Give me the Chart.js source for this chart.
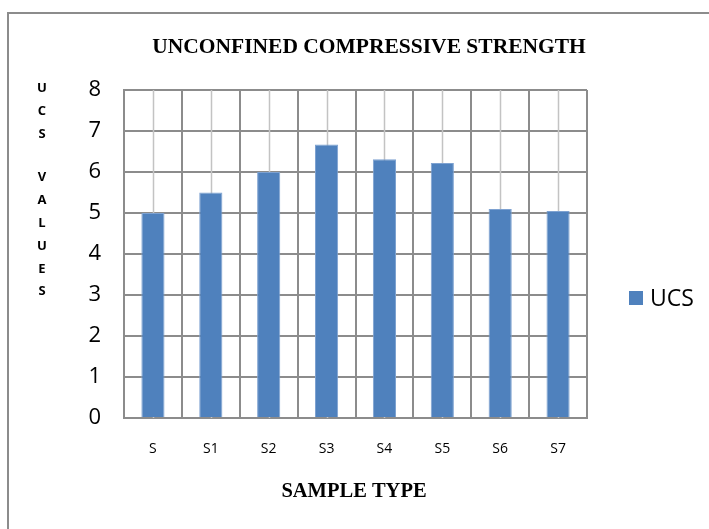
<!DOCTYPE html>
<html>
<head>
<meta charset="utf-8">
<script src="https://cdn.jsdelivr.net/npm/chart.js@4"></script>
<style>
html,body{margin:0;padding:0;background:#fff;}
#wrap{position:relative;width:709px;height:529px;}
</style>
</head>
<body>
<div id="wrap"><canvas id="c" width="709" height="529"></canvas></div>
<script>
const categories = ['S', 'S1', 'S2', 'S3', 'S4', 'S5', 'S6', 'S7'];
const ucsValues = [5.0, 5.5, 6.0, 6.67, 6.31, 6.22, 5.1, 5.05];
const seriesName = 'UCS';
const chartTitle = 'UNCONFINED COMPRESSIVE STRENGTH';
const xTitle = 'SAMPLE TYPE';
const yTitleLines = ['U', 'C', 'S', '', 'V', 'A', 'L', 'U', 'E', 'S'];

const sans = '"Open Sans", sans-serif';
const serif = '"Liberation Serif", "Times New Roman", serif';

const decor = {
  id: 'decor',
  beforeDatasetsDraw(chart) {
    const ctx = chart.ctx, x = chart.scales.x, a = chart.chartArea;
    ctx.save();
    ctx.strokeStyle = '#c3c3c3';
    ctx.lineWidth = 1.5;
    for (let i = 0; i < categories.length; i++) {
      const px = Math.round(x.getPixelForValue(i)) + 0.5;
      ctx.beginPath(); ctx.moveTo(px, a.top); ctx.lineTo(px, a.bottom); ctx.stroke();
    }
    ctx.restore();
  },
  afterDraw(chart) {
    const ctx = chart.ctx;
    ctx.save();
    // outer frame
    ctx.strokeStyle = '#8c8c8c';
    ctx.lineWidth = 2;
    ctx.strokeRect(8, 13, 900, 700);
    // title
    ctx.fillStyle = '#000';
    ctx.textAlign = 'center';
    ctx.textBaseline = 'middle';
    ctx.font = 'bold 21.5px ' + serif;
    ctx.fillText(chartTitle, 369, 47);
    // x title
    ctx.font = 'bold 20.5px ' + serif;
    ctx.fillText(xTitle, 354, 492);
    // y title stacked letters
    ctx.font = 'bold 13px ' + sans;
    let y = 88.5;
    yTitleLines.forEach((ch) => {
      if (ch) { ctx.fillText(ch, 42, y); y += 22.8; }
      else { y += 20.7; }
    });
    // legend
    ctx.fillStyle = '#4f81bd';
    ctx.fillRect(629, 291, 14, 14);
    ctx.fillStyle = '#000';
    ctx.textAlign = 'left';
    ctx.font = '23px ' + sans;
    ctx.fillText(seriesName, 650, 299);
    ctx.restore();
  }
};

new Chart(document.getElementById('c'), {
  type: 'bar',
  data: {
    labels: categories,
    datasets: [{
      label: seriesName,
      data: ucsValues,
      backgroundColor: '#4f81bd',
      borderColor: '#7ea2d1',
      borderWidth: 1,
      categoryPercentage: 1,
      barPercentage: 0.4
    }]
  },
  options: {
    responsive: false,
    animation: false,
    devicePixelRatio: 1,
    layout: { padding: { left: 0, right: 122, top: 90, bottom: 0 } },
    plugins: { legend: { display: false }, title: { display: false }, tooltip: { enabled: false } },
    scales: {
      y: {
        min: 0, max: 8,
        ticks: { stepSize: 1, color: '#000', font: { family: sans, size: 22 }, padding: 23 },
        grid: { color: '#8c8c8c', lineWidth: 2, drawTicks: false },
        border: { color: '#8c8c8c', width: 2 },
        afterFit(s) { s.width = 124; }
      },
      x: {
        ticks: { color: '#000', font: { family: sans, size: 14 }, padding: 23 },
        grid: { color: '#8c8c8c', lineWidth: 2, drawTicks: false, offset: true },
        border: { color: '#8c8c8c', width: 2 },
        afterFit(s) { s.height = 111; }
      }
    }
  },
  plugins: [decor]
});
</script>
</body>
</html>
